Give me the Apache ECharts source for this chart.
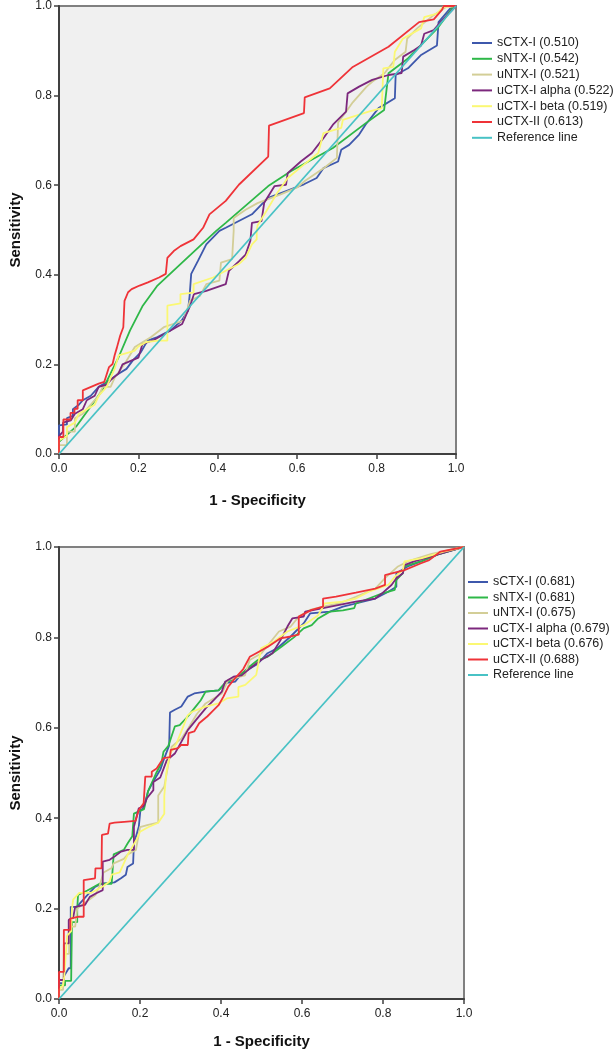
<!DOCTYPE html>
<html>
<head>
<meta charset="utf-8">
<script src="https://cdn.jsdelivr.net/npm/echarts@6/dist/echarts.min.js"></script>
<style>
html,body{margin:0;padding:0;background:#fff;}
#main{width:615px;height:1050px;}
</style>
</head>
<body>
<div id="main"></div>
<script>
// ---------- DATA ----------
var axisTicks = [0, 0.2, 0.4, 0.6, 0.8, 1.0];
var xTitle = '1 - Specificity';
var yTitle = 'Sensitivity';

// Chart 1 (top)
var top_names = ['sCTX-I (0.510)','sNTX-I (0.542)','uNTX-I (0.521)','uCTX-I alpha (0.522)','uCTX-I beta (0.519)','uCTX-II (0.613)','Reference line'];
var top_sCTX = [[0,0],[0,0.064],[0.02,0.066],[0.02,0.08],[0.035,0.085],[0.035,0.1],[0.05,0.11],[0.06,0.12],[0.08,0.13],[0.1,0.15],[0.12,0.16],[0.15,0.179],[0.17,0.19],[0.186,0.209],[0.206,0.227],[0.223,0.253],[0.248,0.261],[0.281,0.276],[0.309,0.298],[0.325,0.32],[0.329,0.353],[0.333,0.402],[0.35,0.431],[0.371,0.468],[0.404,0.498],[0.42,0.505],[0.486,0.535],[0.527,0.572],[0.617,0.602],[0.649,0.616],[0.666,0.638],[0.703,0.653],[0.711,0.679],[0.731,0.69],[0.756,0.713],[0.772,0.735],[0.805,0.772],[0.846,0.794],[0.848,0.846],[0.879,0.861],[0.911,0.89],[0.952,0.912],[0.956,0.964],[0.985,0.994],[1,1]];
var top_sNTX = [[0,0],[0,0.027],[0.043,0.061],[0.109,0.142],[0.15,0.216],[0.179,0.276],[0.211,0.331],[0.248,0.376],[0.306,0.424],[0.396,0.498],[0.42,0.516],[0.527,0.598],[0.584,0.631],[0.69,0.683],[0.772,0.738],[0.819,0.768],[0.83,0.85],[0.879,0.883],[0.953,0.95],[0.993,0.998],[1,1]];
var top_uNTX = [[0,0],[0,0.02],[0.02,0.02],[0.02,0.05],[0.04,0.05],[0.04,0.08],[0.06,0.09],[0.08,0.11],[0.1,0.13],[0.11,0.15],[0.13,0.15],[0.14,0.17],[0.166,0.202],[0.191,0.239],[0.232,0.261],[0.264,0.283],[0.314,0.298],[0.33,0.342],[0.355,0.353],[0.371,0.379],[0.404,0.387],[0.408,0.427],[0.436,0.435],[0.44,0.498],[0.44,0.527],[0.47,0.545],[0.5,0.56],[0.53,0.57],[0.56,0.58],[0.6,0.595],[0.62,0.61],[0.645,0.625],[0.67,0.64],[0.7,0.661],[0.703,0.74],[0.72,0.76],[0.74,0.785],[0.755,0.8],[0.775,0.82],[0.789,0.831],[0.82,0.85],[0.845,0.879],[0.873,0.898],[0.877,0.927],[0.902,0.95],[0.943,0.979],[0.975,0.998],[1,1]];
var top_uCTXa = [[0,0],[0,0.04],[0.01,0.05],[0.01,0.07],[0.03,0.075],[0.04,0.09],[0.06,0.1],[0.07,0.12],[0.09,0.13],[0.1,0.15],[0.12,0.155],[0.13,0.165],[0.15,0.18],[0.16,0.2],[0.2,0.215],[0.21,0.245],[0.24,0.255],[0.27,0.27],[0.29,0.28],[0.31,0.29],[0.32,0.31],[0.33,0.33],[0.34,0.357],[0.371,0.364],[0.42,0.379],[0.428,0.409],[0.453,0.43],[0.47,0.445],[0.482,0.476],[0.486,0.516],[0.51,0.52],[0.517,0.561],[0.543,0.598],[0.572,0.601],[0.576,0.627],[0.609,0.653],[0.637,0.672],[0.666,0.705],[0.69,0.735],[0.723,0.764],[0.727,0.805],[0.756,0.82],[0.789,0.835],[0.83,0.846],[0.863,0.85],[0.867,0.887],[0.895,0.902],[0.912,0.912],[0.92,0.938],[0.944,0.946],[0.961,0.964],[0.994,0.994],[1,1]];
var top_uCTXb = [[0,0],[0,0.03],[0.02,0.04],[0.02,0.06],[0.04,0.07],[0.05,0.09],[0.07,0.1],[0.09,0.11],[0.1,0.13],[0.12,0.15],[0.13,0.17],[0.14,0.19],[0.15,0.22],[0.19,0.23],[0.2,0.24],[0.22,0.25],[0.25,0.253],[0.273,0.253],[0.273,0.331],[0.306,0.336],[0.306,0.357],[0.339,0.36],[0.339,0.379],[0.388,0.394],[0.42,0.409],[0.453,0.424],[0.47,0.438],[0.486,0.468],[0.498,0.479],[0.498,0.498],[0.5,0.51],[0.527,0.549],[0.547,0.579],[0.576,0.616],[0.617,0.646],[0.653,0.672],[0.666,0.716],[0.711,0.728],[0.715,0.746],[0.78,0.764],[0.813,0.772],[0.817,0.861],[0.842,0.864],[0.846,0.898],[0.866,0.927],[0.912,0.95],[0.92,0.975],[0.952,0.983],[0.968,0.998],[1,1]];
var top_uCTXII = [[0,0],[0,0.038],[0.011,0.038],[0.011,0.077],[0.029,0.077],[0.029,0.092],[0.039,0.092],[0.039,0.101],[0.047,0.101],[0.047,0.12],[0.06,0.12],[0.06,0.142],[0.1,0.157],[0.114,0.161],[0.118,0.172],[0.126,0.194],[0.135,0.201],[0.14,0.22],[0.146,0.238],[0.154,0.264],[0.162,0.283],[0.165,0.342],[0.174,0.361],[0.183,0.368],[0.203,0.376],[0.224,0.383],[0.252,0.394],[0.269,0.402],[0.273,0.438],[0.289,0.453],[0.306,0.464],[0.339,0.479],[0.363,0.505],[0.379,0.535],[0.42,0.565],[0.453,0.601],[0.527,0.664],[0.529,0.733],[0.617,0.761],[0.619,0.796],[0.682,0.816],[0.74,0.864],[0.83,0.909],[0.907,0.964],[0.944,0.97],[0.965,0.992],[0.969,1],[1,1]];

// Chart 2 (bottom)
var bot_names = ['sCTX-I (0.681)','sNTX-I (0.681)','uNTX-I (0.675)','uCTX-I alpha (0.679)','uCTX-I beta (0.676)','uCTX-II (0.688)','Reference line'];
var bot_sCTX = [[0,0],[0,0.035],[0.012,0.035],[0.012,0.05],[0.024,0.068],[0.029,0.068],[0.029,0.204],[0.045,0.204],[0.05,0.21],[0.07,0.23],[0.089,0.248],[0.105,0.255],[0.137,0.258],[0.153,0.267],[0.165,0.275],[0.169,0.292],[0.183,0.3],[0.185,0.344],[0.197,0.381],[0.201,0.418],[0.209,0.422],[0.22,0.46],[0.232,0.48],[0.25,0.507],[0.258,0.528],[0.272,0.561],[0.274,0.634],[0.286,0.64],[0.302,0.647],[0.31,0.658],[0.318,0.669],[0.334,0.676],[0.362,0.68],[0.394,0.683],[0.41,0.699],[0.435,0.702],[0.451,0.72],[0.491,0.742],[0.515,0.765],[0.539,0.776],[0.572,0.802],[0.604,0.831],[0.62,0.853],[0.669,0.857],[0.701,0.868],[0.733,0.875],[0.781,0.886],[0.813,0.901],[0.833,0.912],[0.833,0.942],[0.861,0.957],[0.894,0.968],[0.94,0.985],[1,1]];
var bot_sNTX = [[0,0],[0,0.03],[0.015,0.03],[0.015,0.04],[0.03,0.04],[0.032,0.17],[0.045,0.17],[0.045,0.2],[0.047,0.23],[0.07,0.24],[0.09,0.25],[0.1,0.255],[0.13,0.255],[0.135,0.32],[0.16,0.33],[0.17,0.345],[0.181,0.36],[0.185,0.41],[0.21,0.42],[0.22,0.46],[0.24,0.5],[0.253,0.522],[0.258,0.547],[0.27,0.56],[0.286,0.603],[0.298,0.606],[0.318,0.625],[0.334,0.643],[0.35,0.661],[0.362,0.68],[0.394,0.683],[0.41,0.699],[0.443,0.713],[0.47,0.735],[0.491,0.75],[0.515,0.757],[0.55,0.78],[0.58,0.8],[0.604,0.82],[0.624,0.827],[0.64,0.842],[0.669,0.857],[0.701,0.86],[0.729,0.865],[0.733,0.875],[0.765,0.886],[0.797,0.897],[0.829,0.905],[0.833,0.927],[0.849,0.942],[0.853,0.957],[0.894,0.968],[0.94,0.985],[1,1]];
var bot_uNTX = [[0,0],[0,0.02],[0.01,0.02],[0.012,0.1],[0.025,0.1],[0.025,0.16],[0.04,0.16],[0.045,0.2],[0.06,0.21],[0.09,0.23],[0.1,0.25],[0.11,0.28],[0.13,0.29],[0.135,0.3],[0.16,0.31],[0.17,0.32],[0.19,0.33],[0.2,0.38],[0.22,0.385],[0.245,0.39],[0.245,0.45],[0.26,0.47],[0.27,0.52],[0.278,0.558],[0.302,0.576],[0.32,0.6],[0.34,0.63],[0.362,0.654],[0.402,0.676],[0.418,0.706],[0.459,0.716],[0.471,0.75],[0.5,0.765],[0.543,0.813],[0.572,0.824],[0.592,0.846],[0.62,0.861],[0.652,0.868],[0.692,0.875],[0.733,0.89],[0.781,0.908],[0.805,0.931],[0.837,0.957],[0.861,0.968],[0.92,0.985],[1,1]];
var bot_uCTXa = [[0,0],[0,0.042],[0.012,0.042],[0.012,0.123],[0.024,0.123],[0.024,0.175],[0.035,0.18],[0.04,0.204],[0.064,0.208],[0.076,0.226],[0.092,0.234],[0.108,0.241],[0.108,0.304],[0.125,0.308],[0.137,0.315],[0.153,0.326],[0.169,0.33],[0.185,0.33],[0.185,0.381],[0.197,0.422],[0.209,0.426],[0.217,0.444],[0.233,0.462],[0.233,0.48],[0.25,0.49],[0.266,0.528],[0.286,0.543],[0.302,0.569],[0.318,0.595],[0.338,0.617],[0.362,0.643],[0.382,0.661],[0.402,0.68],[0.41,0.702],[0.431,0.713],[0.451,0.716],[0.471,0.731],[0.499,0.75],[0.527,0.765],[0.547,0.794],[0.564,0.824],[0.576,0.842],[0.604,0.846],[0.608,0.857],[0.652,0.865],[0.692,0.872],[0.733,0.879],[0.781,0.886],[0.797,0.897],[0.821,0.916],[0.833,0.931],[0.849,0.942],[0.853,0.96],[0.877,0.968],[0.94,0.985],[1,1]];
var bot_uCTXb = [[0,0],[0,0.02],[0.01,0.03],[0.013,0.05],[0.02,0.14],[0.03,0.15],[0.032,0.2],[0.035,0.22],[0.05,0.235],[0.08,0.235],[0.1,0.245],[0.11,0.25],[0.125,0.26],[0.13,0.275],[0.15,0.28],[0.16,0.3],[0.17,0.32],[0.19,0.35],[0.2,0.37],[0.22,0.38],[0.245,0.39],[0.26,0.41],[0.26,0.45],[0.265,0.5],[0.274,0.543],[0.29,0.565],[0.318,0.628],[0.33,0.636],[0.362,0.647],[0.394,0.654],[0.414,0.665],[0.443,0.669],[0.443,0.69],[0.46,0.695],[0.487,0.717],[0.499,0.776],[0.531,0.791],[0.564,0.813],[0.604,0.827],[0.64,0.849],[0.656,0.875],[0.7,0.879],[0.733,0.886],[0.765,0.901],[0.813,0.916],[0.829,0.934],[0.849,0.949],[0.853,0.968],[0.894,0.975],[0.95,0.99],[1,1]];
var bot_uCTXII = [[0,0],[0,0.06],[0.012,0.06],[0.012,0.153],[0.028,0.153],[0.028,0.178],[0.049,0.182],[0.061,0.182],[0.061,0.263],[0.089,0.267],[0.09,0.289],[0.105,0.289],[0.106,0.363],[0.121,0.366],[0.125,0.388],[0.137,0.39],[0.161,0.392],[0.189,0.394],[0.197,0.418],[0.209,0.433],[0.211,0.462],[0.213,0.492],[0.229,0.492],[0.229,0.503],[0.241,0.51],[0.258,0.533],[0.274,0.535],[0.276,0.551],[0.294,0.555],[0.302,0.562],[0.318,0.562],[0.32,0.588],[0.334,0.592],[0.346,0.61],[0.366,0.625],[0.378,0.636],[0.394,0.65],[0.406,0.669],[0.418,0.691],[0.435,0.71],[0.455,0.73],[0.471,0.757],[0.487,0.765],[0.515,0.779],[0.547,0.798],[0.572,0.802],[0.592,0.806],[0.592,0.846],[0.624,0.861],[0.652,0.868],[0.652,0.886],[0.684,0.89],[0.733,0.899],[0.781,0.908],[0.805,0.916],[0.805,0.938],[0.853,0.949],[0.894,0.964],[0.914,0.971],[0.942,0.99],[1,1]];

var refLine = [[0,0],[1,1]];

var colors = ['#3E58AC','#2EB848','#D3CE97','#7C287D','#FBF873','#EF3338','#48C2C5'];

// ---------- CHART ----------
var FONT = 'Liberation Sans';
var chart = echarts.init(document.getElementById('main'), null, {renderer:'canvas'});

function mkX(gi){
  return {
    gridIndex: gi, type:'value', min:0, max:1, interval:0.2,
    name: xTitle, nameLocation:'middle', nameGap: gi===0 ? 39 : 35,
    nameTextStyle:{fontFamily:FONT, fontSize:15, fontWeight:'bold', color:'#111'},
    axisLine:{show:true, onZero:false, lineStyle:{color:'#404040', width:2}},
    axisTick:{show:true, length:5, lineStyle:{color:'#404040', width:1.5}},
    axisLabel:{margin:9, fontFamily:FONT, fontSize:12, color:'#222', formatter:function(v){return v.toFixed(1);}},
    splitLine:{show:false}
  };
}
function mkY(gi){
  return {
    gridIndex: gi, type:'value', min:0, max:1, interval:0.2,
    name: yTitle, nameLocation:'middle', nameGap: 36, nameRotate:90,
    nameTextStyle:{fontFamily:FONT, fontSize:15, fontWeight:'bold', color:'#111'},
    axisLine:{show:true, onZero:false, lineStyle:{color:'#404040', width:2}},
    axisTick:{show:true, length:5, lineStyle:{color:'#404040', width:1.5}},
    axisLabel:{margin:7, fontFamily:FONT, fontSize:12, color:'#222', formatter:function(v){return v.toFixed(1);}},
    splitLine:{show:false}
  };
}

var topData = [top_sCTX, top_sNTX, top_uNTX, top_uCTXa, top_uCTXb, top_uCTXII, refLine];
var botData = [bot_sCTX, bot_sNTX, bot_uNTX, bot_uCTXa, bot_uCTXb, bot_uCTXII, refLine];

var series = [];
topData.forEach(function(d,i){
  series.push({type:'line', name: top_names[i], xAxisIndex:0, yAxisIndex:0, data:d, showSymbol:false, symbol:'none',
    lineStyle:{color:colors[i], width:1.8}, itemStyle:{color:colors[i]}, animation:false, silent:true});
});
botData.forEach(function(d,i){
  series.push({type:'line', name: bot_names[i], xAxisIndex:1, yAxisIndex:1, data:d, showSymbol:false, symbol:'none',
    lineStyle:{color:colors[i], width:1.8}, itemStyle:{color:colors[i]}, animation:false, silent:true});
});

function mkLegend(names, left, top, gap){
  return {
    data: names, orient:'vertical', left:left, top:top, padding:0,
    icon:'rect', itemWidth:20, itemHeight:2, itemGap:gap,
    selectedMode:false,
    textStyle:{fontFamily:FONT, fontSize:12.5, color:'#222', lineHeight:14}
  };
}

chart.setOption({
  backgroundColor:'#ffffff',
  animation:false,
  grid:[
    {left:49, top:4, width:407, height:450, show:true, backgroundColor:'#f0f0f0', borderColor:'#808080', borderWidth:2},
    {left:50, top:547, width:414, height:452, show:true, backgroundColor:'#f0f0f0', borderColor:'#808080', borderWidth:2}
  ],
  xAxis:[mkX(0), mkX(1)],
  yAxis:[mkY(0), mkY(1)],
  legend:[
    mkLegend(top_names, 472, 36, 1.8),
    mkLegend(bot_names, 468, 575, 1.5)
  ],
  series: series
});
</script>
</body>
</html>
